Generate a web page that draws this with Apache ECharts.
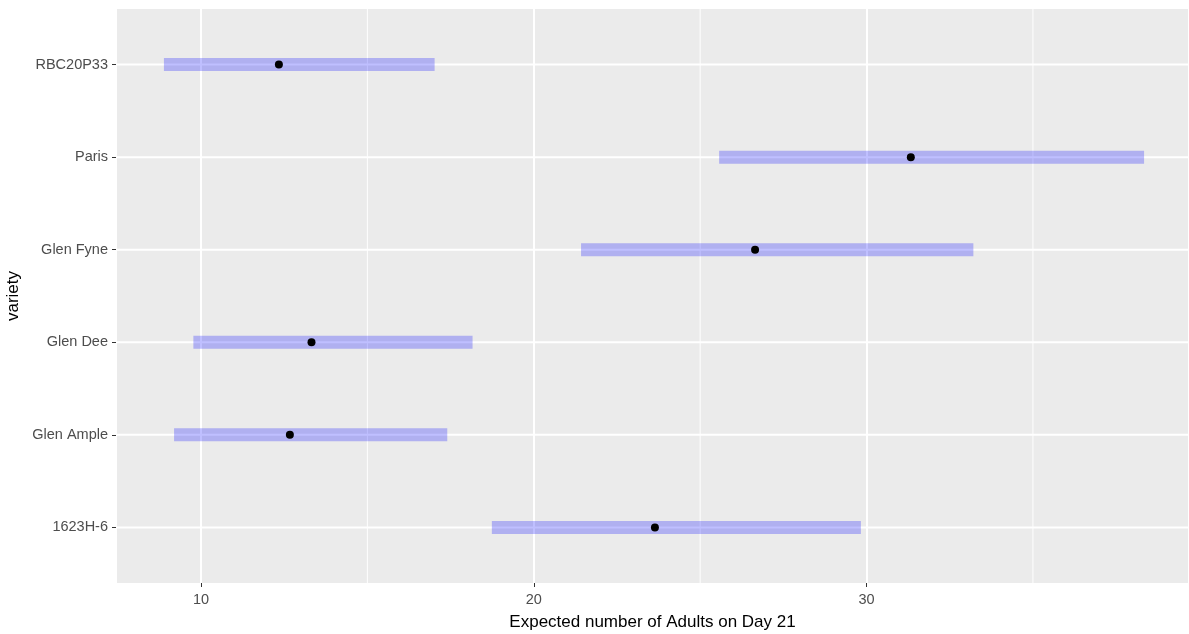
<!DOCTYPE html>
<html>
<head>
<meta charset="utf-8">
<script src="https://cdn.jsdelivr.net/npm/echarts@6/dist/echarts.min.js"></script>
<style>html,body{margin:0;padding:0;background:#fff;}#c{width:1189px;height:634px;}</style>
</head>
<body>
<div id="c"></div>
<script>
// bottom-to-top order
const categories = ['1623H-6', 'Glen Ample', 'Glen Dee', 'Glen Fyne', 'Paris', 'RBC20P33'];
const lower = [18.74, 9.19, 9.77, 21.42, 25.57, 8.885];
const upper = [29.83, 17.40, 18.16, 33.21, 38.34, 17.02];
const estimate = [23.64, 12.67, 13.32, 26.65, 31.33, 12.34];
const minorGrid = [15, 25, 35];

const chart = echarts.init(document.getElementById('c'), null, {renderer: 'canvas'});
const font = 'Liberation Sans, Arial, sans-serif';

const rangeData = categories.map((c, i) => [lower[i], upper[i], i + 1]);
const pointData = categories.map((c, i) => [estimate[i], i + 1]);

chart.setOption({
  animation: false,
  backgroundColor: '#ffffff',
  grid: {left: 116, right: 0, top: 9, bottom: 51, show: true, backgroundColor: '#ebebeb', borderWidth: 0,
    containLabel: false, outerBoundsMode: 'none'},
  xAxis: {
    type: 'value', min: 7.445, max: 39.69, splitNumber: 3,
    name: 'Expected number of Adults on Day 21', nameLocation: 'middle', nameGap: 31,
    nameTextStyle: {color: '#000', fontSize: 17, fontFamily: font},
    axisLine: {show: false},
    axisTick: {show: true, length: 4, lineStyle: {color: '#333', width: 1}},
    axisLabel: {color: '#4d4d4d', fontSize: 14.5, fontFamily: font, margin: 9, showMinLabel: false, showMaxLabel: false,
      formatter: v => (Math.abs(v % 10) < 1e-6 ? String(v) : '')},
    splitLine: {show: true, lineStyle: {color: '#ffffff', width: 2}}
  },
  yAxis: {
    type: 'value', min: 0.4, max: 6.6, splitNumber: 6,
    name: 'variety', nameLocation: 'middle', nameGap: 94, nameRotate: 90,
    nameTextStyle: {color: '#000', fontSize: 17, fontFamily: font},
    axisLine: {show: false},
    axisTick: {show: true, length: 4, lineStyle: {color: '#333', width: 1},
      customValues: categories.map((c, i) => i + 1)},
    axisLabel: {color: '#4d4d4d', fontSize: 14.5, fontFamily: font, margin: 8,
      customValues: categories.map((c, i) => i + 1),
      formatter: v => { const k = Math.round(v); return Math.abs(v - k) < 1e-6 && k >= 1 && k <= categories.length ? categories[k - 1] : ''; }},
    splitLine: {show: false}
  },
  series: [
    {
      type: 'custom', silent: true, z: 1,
      renderItem: (params, api) => {
        const y = api.value(0);
        const a = api.coord([7.445, y]);
        const b = api.coord([39.69, y]);
        return {type: 'line', shape: {x1: a[0], y1: a[1], x2: b[0], y2: b[1]}, style: {stroke: '#ffffff', lineWidth: 2}};
      },
      data: categories.map((c, i) => [i + 1]),
      encode: {y: 0}
    },
    {
      type: 'custom', silent: true, z: 1,
      renderItem: (params, api) => {
        const x = api.value(0);
        const a = api.coord([x, 0.4]);
        const b = api.coord([x, 6.6]);
        return {type: 'line', shape: {x1: a[0], y1: a[1], x2: b[0], y2: b[1]}, style: {stroke: '#ffffff', lineWidth: 1}};
      },
      data: minorGrid.map(v => [v]),
      encode: {x: 0}
    },
    {
      type: 'custom', silent: true, z: 2,
      renderItem: (params, api) => {
        const p0 = api.coord([api.value(0), api.value(2)]);
        const p1 = api.coord([api.value(1), api.value(2)]);
        const h = 13;
        return {type: 'rect', shape: {x: p0[0], y: p0[1] - h / 2, width: p1[0] - p0[0], height: h},
          style: {fill: 'rgba(0,0,255,0.25)'}};
      },
      data: rangeData,
      encode: {x: [0, 1], y: 2}
    },
    {
      type: 'scatter', z: 3, symbol: 'circle', symbolSize: 8,
      itemStyle: {color: '#000', opacity: 1},
      data: pointData
    }
  ]
});
</script>
</body>
</html>
